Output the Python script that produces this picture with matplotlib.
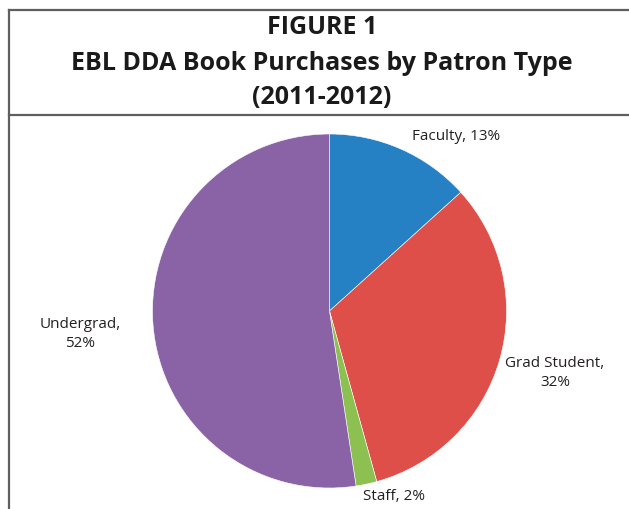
import matplotlib
matplotlib.use("Agg")
import matplotlib.pyplot as plt
from matplotlib.lines import Line2D

# data (shares in %)
patron_types = ["Faculty", "Grad Student", "Staff", "Undergrad"]
shares = [13.3, 32.4, 1.9, 52.4]
colors = ["#2581c3", "#df4f4a", "#8cc152", "#8a62a6"]

W, H = 629, 509
fig = plt.figure(figsize=(W / 100, H / 100), dpi=100)
fig.patch.set_facecolor("white")

def px(x, y):
    # pixel (from top-left) -> figure fraction
    return x / W, 1 - y / H

# frame lines
frame_col = "#5f5f5f"
for (x0, y0), (x1, y1) in [((8.5, 10), (629, 10)),
                           ((8.5, 10), (8.5, 509)),
                           ((8.5, 115), (629, 115))]:
    a, b = px(x0, y0)
    c, d = px(x1, y1)
    fig.add_artist(Line2D([a, c], [b, d], color=frame_col, lw=1.6,
                          transform=fig.transFigure))

# title
title_lines = ["FIGURE 1", "EBL DDA Book Purchases by Patron Type", "(2011-2012)"]
for txt, yy in zip(title_lines, [28, 63, 97]):
    fig.text(*px(322, yy), txt, ha="center", va="center", fontsize=18,
             fontweight="bold", family="Open Sans", color="#1a1a1a")

# pie
cx, cy, r = 329.5, 311, 177
ax = fig.add_axes([(cx - r) / W, (H - cy - r) / H, 2 * r / W, 2 * r / H])
ax.pie(shares, colors=colors, startangle=90, counterclock=False,
       radius=1, wedgeprops=dict(edgecolor="white", linewidth=0.4))
ax.set_xlim(-1, 1)
ax.set_ylim(-1, 1)
ax.set_aspect("equal")
ax.axis("off")

pct = [f"{round(s):.0f}%" for s in shares]
label_pos = [(456, 136, f"{patron_types[0]}, {pct[0]}"),
             (555, 373, f"{patron_types[1]},\n{pct[1]}"),
             (394, 496, f"{patron_types[2]}, {pct[2]}"),
             (80, 334, f"{patron_types[3]},\n{pct[3]}")]
for x, y, t in label_pos:
    fig.text(*px(x, y), t, ha="center", va="center", fontsize=11,
             family="Open Sans", color="#231f20", linespacing=1.3)

fig.savefig("out.png", dpi=100, facecolor="white")
